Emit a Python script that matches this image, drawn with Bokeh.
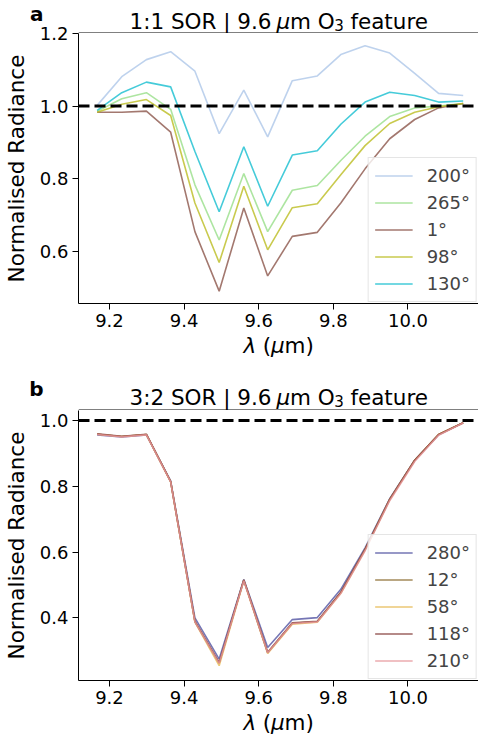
from bokeh.plotting import figure
from bokeh.layouts import column
from bokeh.models import (Span, Legend, LegendItem, FixedTicker, NumeralTickFormatter,
                          Range1d, LinearAxis)
from bokeh.core.properties import value
from bokeh.embed import file_html
from bokeh.resources import INLINE

# wavelength grid (micrometres)
wavelength = [9.167, 9.233, 9.299, 9.364, 9.429, 9.494, 9.560, 9.624,
              9.690, 9.757, 9.820, 9.885, 9.951, 10.018, 10.082, 10.148]

# panel a: 1:1 SOR
a_labels = ["200°", "265°", "1°", "98°", "130°"]
a_colors = ["#aec7e8", "#98df8a", "#8c564b", "#bcbd22", "#17becf"]
a_200 = [1.002, 1.081, 1.128, 1.150, 1.096, 0.924, 1.044, 0.915, 1.070, 1.083, 1.142, 1.166, 1.146, 1.090, 1.035, 1.029]
a_265 = [0.986, 1.020, 1.037, 0.991, 0.783, 0.631, 0.814, 0.654, 0.768, 0.781, 0.850, 0.917, 0.971, 0.995, 1.000, 1.007]
a_1 = [0.983, 0.983, 0.986, 0.928, 0.654, 0.490, 0.719, 0.532, 0.641, 0.652, 0.733, 0.827, 0.910, 0.963, 0.995, 1.007]
a_98 = [0.983, 1.005, 1.018, 0.974, 0.733, 0.569, 0.779, 0.604, 0.720, 0.731, 0.811, 0.891, 0.952, 0.983, 0.998, 1.007]
a_130 = [0.988, 1.037, 1.066, 1.053, 0.875, 0.709, 0.888, 0.724, 0.865, 0.877, 0.950, 1.011, 1.038, 1.029, 1.011, 1.014]
a_series = [a_200, a_265, a_1, a_98, a_130]

# panel b: 3:2 SOR
b_labels = ["280°", "12°", "58°", "118°", "210°"]
b_colors = ["#5254a3", "#8c6d31", "#e7ba52", "#843c39", "#e7969c"]
b_280 = [0.956, 0.950, 0.956, 0.816, 0.400, 0.275, 0.517, 0.310, 0.395, 0.401, 0.487, 0.613, 0.762, 0.879, 0.956, 0.993]
b_12 = [0.958, 0.951, 0.957, 0.814, 0.389, 0.262, 0.515, 0.294, 0.384, 0.389, 0.477, 0.608, 0.760, 0.879, 0.957, 0.993]
b_58 = [0.958, 0.951, 0.957, 0.813, 0.387, 0.255, 0.513, 0.292, 0.381, 0.387, 0.475, 0.606, 0.759, 0.878, 0.957, 0.993]
b_118 = [0.959, 0.952, 0.958, 0.814, 0.390, 0.265, 0.515, 0.296, 0.385, 0.390, 0.478, 0.608, 0.760, 0.879, 0.957, 0.993]
b_210 = [0.957, 0.950, 0.956, 0.813, 0.388, 0.262, 0.513, 0.294, 0.383, 0.388, 0.474, 0.604, 0.756, 0.875, 0.955, 0.992]
b_series = [b_280, b_12, b_58, b_118, b_210]

x_ticks = [9.2, 9.4, 9.6, 9.8, 10.0]
a_yticks = [0.6, 0.8, 1.0, 1.2]
b_yticks = [0.4, 0.6, 0.8, 1.0]

FONT = "DejaVu Sans"
W = 478
FRAME_L = 73
TITLE_PX = 21.5
SPACE = 0.318
BASELINE_FIX = 0.28  # em; compensates the renderer's alphabetic-baseline offset
NBSP = "\u00a0"

# DejaVu Sans advance widths (em) for composing mixed-style texts
ADV = {' ': SPACE, '(': 0.390, ')': 0.390, '.': 0.318, ':': 0.337, '|': 0.337,
       'O': 0.787, 'R': 0.695, 'S': 0.635, 'a': 0.613, 'e': 0.615, 'f': 0.352,
       'm': 0.974, 'r': 0.411, 't': 0.392, 'u': 0.634, 'μ': 0.635, 'λ': 0.592}


def adv(s):
    return sum(0.636 if ch.isdigit() else ADV.get(ch, 0.6) for ch in s)


def text_fig(h, letter=None, letter_y=None, overlap=0, transparent=False):
    f = figure(width=W, height=h, x_range=Range1d(FRAME_L, W), y_range=Range1d(h, 0),
               x_axis_type=None, y_axis_type=None, output_backend="svg",
               toolbar_location=None, title=None,
               min_border_left=FRAME_L, min_border_right=0, min_border_top=0, min_border_bottom=0,
               margin=(-overlap, 0, 0, 0))
    f.outline_line_color = None
    f.background_fill_color = None if transparent else "white"
    f.border_fill_color = None if transparent else "white"
    if letter is not None:
        ax = LinearAxis(ticker=FixedTicker(ticks=[letter_y]),
                        major_label_overrides={letter_y: letter},
                        axis_line_color=None, major_tick_line_color=None,
                        minor_tick_line_color=None, major_tick_out=0, major_tick_in=0,
                        major_label_standoff=35, major_label_text_font=FONT,
                        major_label_text_font_size="20px", major_label_text_font_style="bold",
                        major_label_text_color="black")
        f.add_layout(ax, "left")
    return f


def compose(f, center, baseline, pieces, size):
    # pieces: (text, style, scale, dy); spaces are turned into offsets
    total = sum(adv(t) * size * sc for t, st, sc, dy in pieces)
    x = center - total / 2.0
    for t, st, sc, dy in pieces:
        lead = len(t) - len(t.lstrip(" "))
        core = t.strip(" ")
        trail = len(t) - len(t.rstrip(" "))
        x += lead * SPACE * size * sc
        y = baseline + dy - BASELINE_FIX * size * sc
        f.text(x=[x], y=[y], text=[core], text_font=value(FONT),
               text_font_size=value(f"{size * sc:.2f}px"), text_font_style=value(st),
               text_color="black", text_align="left", text_baseline="alphabetic")
        x += (adv(core) + trail * SPACE) * size * sc


def title_pieces(ratio):
    return [(f"{ratio} SOR | 9.6 ", "normal", 1.0, 0), ("μ", "italic", 1.0, 0),
            ("m O", "normal", 1.0, 0), ("3", "normal", 0.7, 2.0), (" feature", "normal", 1.0, 0)]


XLABEL = [("λ", "italic", 1.0, 0), (" (", "normal", 1.0, 0), ("μ", "italic", 1.0, 0), ("m)", "normal", 1.0, 0)]
CENTER = (FRAME_L + W) / 2.0


def top_spine(f, h):
    f.segment(x0=[FRAME_L], y0=[h - 0.5], x1=[W], y1=[h - 0.5], line_color="black", line_width=1)


def make_panel(labels, colors, series, yticks, yrange, top, overlap):
    p = figure(width=W, height=top + 270 + 32, output_backend="svg", toolbar_location=None, title=None,
               x_range=Range1d(9.117, 10.189), y_range=Range1d(*yrange),
               min_border_left=FRAME_L, min_border_right=0,
               min_border_top=top, min_border_bottom=32,
               margin=(-overlap, 0, 0, 0))
    p.xgrid.visible = False
    p.ygrid.visible = False
    p.outline_line_color = None
    p.background_fill_color = "white"
    p.border_fill_color = None

    for ax in (p.xaxis[0], p.yaxis[0]):
        ax.axis_line_color = "black"
        ax.major_tick_line_color = "black"
        ax.major_tick_out = 6
        ax.major_tick_in = 0
        ax.minor_tick_line_color = None
        ax.major_label_standoff = 4
        ax.major_label_text_font = FONT
        ax.major_label_text_font_size = "18px"
        ax.major_label_text_color = "black"
        ax.axis_label_text_font = FONT
        ax.axis_label_text_font_size = "21.5px"
        ax.axis_label_text_font_style = "normal"
        ax.axis_label_text_color = "black"
        ax.formatter = NumeralTickFormatter(format="0.0")
    p.xaxis.ticker = FixedTicker(ticks=x_ticks)
    p.yaxis.ticker = FixedTicker(ticks=yticks)
    p.yaxis.axis_label = "Normalised Radiance"
    p.yaxis.axis_label_standoff = 8

    items = []
    for lab, col, ys in zip(labels, colors, series):
        r = p.line(wavelength, ys, line_color=col, line_width=1.6, line_alpha=0.8)
        items.append(LegendItem(label=lab, renderers=[r]))

    p.add_layout(Span(location=1.0, dimension="width", line_color="black",
                      line_width=3, line_dash="11 5"))

    legend = Legend(items=items, location="bottom_right",
                    label_text_font=FONT, label_text_font_size="18px",
                    glyph_width=38, glyph_height=23, label_height=23,
                    label_standoff=14, spacing=4, padding=6, margin=1,
                    border_line_color="#cccccc", border_line_width=1,
                    background_fill_color="white", background_fill_alpha=0.8)
    p.add_layout(legend, "center")
    return p


# header of panel a (letter, title, top spine); the letter is padded on its left
# so that its axis panel nearly fills the left border
head_a = text_fig(33, NBSP * 3 + "a", 13)
compose(head_a, CENTER, 27, title_pieces("1:1"), TITLE_PX)
top_spine(head_a, 33)

# panel a overlaps the header by 10 px so that its top tick label is not cut
pa = make_panel(a_labels, a_colors, a_series, a_yticks, (0.456, 1.2), 10, 10)

# between panels (transparent, overlapping panel a's tick-label strip by 6 px):
# x label of a, letter and title of b, top spine of b
mid = text_fig(81, "b", 59, overlap=6, transparent=True)
compose(mid, CENTER, 22.5, XLABEL, TITLE_PX)
compose(mid, CENTER, 74, title_pieces("3:2"), TITLE_PX)
top_spine(mid, 81)

pb = make_panel(b_labels, b_colors, b_series, b_yticks, (0.210, 1.030), 0, 0)

foot = text_fig(31, overlap=6, transparent=True)
compose(foot, CENTER, 22.5, XLABEL, TITLE_PX)

layout = column(head_a, pa, mid, pb, foot, spacing=0)
open("out.html", "w").write(file_html(layout, INLINE))
